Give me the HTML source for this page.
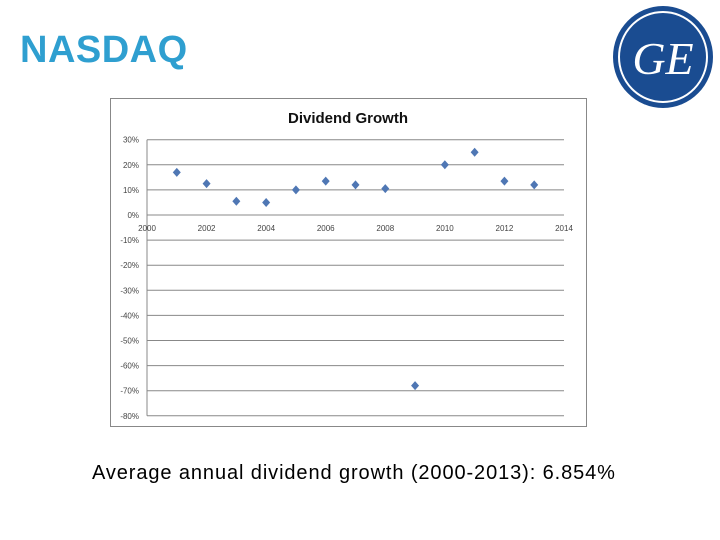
<!DOCTYPE html>
<html><head><meta charset="utf-8">
<style>
body{margin:0;width:720px;height:540px;background:#fff;position:relative;overflow:hidden;font-family:"Liberation Sans",sans-serif}
.nasdaq{position:absolute;left:20px;top:29px;font-size:38px;font-weight:bold;color:#2f9fd0;letter-spacing:0.5px;transform-origin:left top}
.cap{position:absolute;left:92px;width:540px;top:462px;text-align:left;font-size:20px;letter-spacing:0.9px;color:#000;font-family:"Liberation Sans",sans-serif;white-space:nowrap}
</style></head><body>
<div class="nasdaq">NASDAQ</div>
<svg style="position:absolute;left:612px;top:4px" width="104" height="106">
<ellipse cx="51" cy="53" rx="50" ry="51" fill="#1a4c91"/>
<ellipse cx="51" cy="53" rx="44" ry="45" fill="none" stroke="#fff" stroke-width="2"/>
<text x="51" y="70" text-anchor="middle" fill="#fff" font-family="Liberation Serif,serif" font-style="italic" font-size="46">GE</text>
</svg>
<svg id="chart" style="position:absolute;left:0;top:0" width="720" height="540"></svg>
<div class="cap">Average annual dividend growth (2000-2013): 6.854%</div>
<script>
const years=[2001,2002,2003,2004,2005,2006,2007,2008,2009,2010,2011,2012,2013];
const growth=[17,12.5,5.5,5,10,13.5,12,10.5,-68,20,25,13.5,12];
const yTicks=[30,20,10,0,-10,-20,-30,-40,-50,-60,-70,-80];
const xTicks=[2000,2002,2004,2006,2008,2010,2012,2014];
const NS="http://www.w3.org/2000/svg";
const svg=document.getElementById('chart');
const X=v=>147+(v-2000)*(564-147)/14;
const Y=v=>215-v*2.51;
function mk(t,a,p){const e=document.createElementNS(NS,t);for(const k in a)e.setAttribute(k,a[k]);(p||svg).appendChild(e);return e;}
const box=mk('rect',{x:110.5,y:98.5,width:476,height:328,fill:'#fff',stroke:'#888'});


const title=mk('text',{x:348,y:123,'text-anchor':'middle','font-size':15,'font-weight':'bold',fill:'#111'});
title.textContent='Dividend Growth';


yTicks.forEach(v=>{
 const l=mk('line',{x1:147,x2:564,y1:Y(v),y2:Y(v),stroke:'#888','stroke-width':1});
 
 
 const t=mk('text',{x:139,y:Y(v)+3,'text-anchor':'end','font-size':8,fill:'#444'});
 t.textContent=v+'%';
 
 
});
const ax=mk('line',{x1:147,x2:147,y1:Y(30),y2:Y(-80),stroke:'#888'});


xTicks.forEach(v=>{
 const t=mk('text',{x:X(v),y:Y(0)+16,'text-anchor':'middle','font-size':8,fill:'#444'});
 t.textContent=v;
 
 
});
years.forEach((yr,i)=>{
 const x=X(yr),y=Y(growth[i]);
 const p=mk('path',{d:`M${x} ${y-4.5}L${x+4} ${y}L${x} ${y+4.5}L${x-4} ${y}Z`,fill:'#4f77b4'});
 
 
});
</script>
</body></html>
